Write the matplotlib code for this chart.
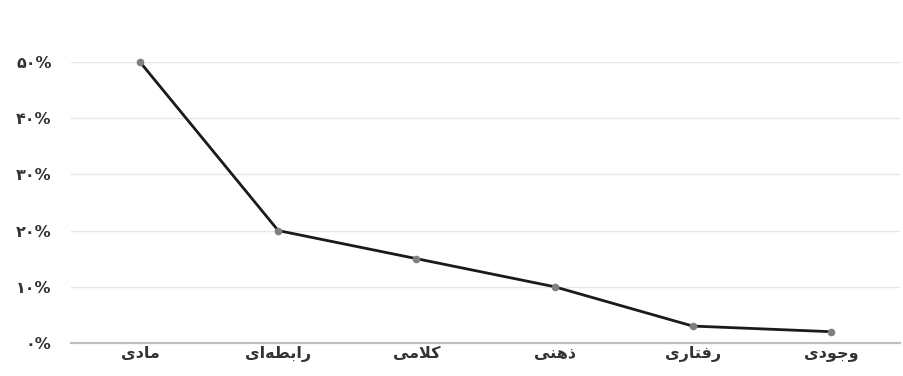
import matplotlib
matplotlib.use('Agg')
import matplotlib.pyplot as plt

# ── Datos ─────────────────────────────────────────────────────────────────────
categorias = ['مادی', 'رابطه\u200cای', 'کلامی', 'ذهنی', 'رفتاری', 'وجودی']
valores = [50, 20, 15, 10, 3, 2]
yticks = [0, 10, 20, 30, 40, 50]
ytick_labels = ['۰%', '۱۰%', '۲۰%', '۳۰%', '۴۰%', '۵۰%']

# ── Formas contextuales (matplotlib no hace shaping árabe) ───────────────────
# letra -> (aislada, final, inicial, medial); None = no une hacia la izquierda
FORMAS = {
    'ا': ('\uFE8D', '\uFE8E', None, None),
    'ب': ('\uFE8F', '\uFE90', '\uFE91', '\uFE92'),
    'ت': ('\uFE95', '\uFE96', '\uFE97', '\uFE98'),
    'ج': ('\uFE9D', '\uFE9E', '\uFE9F', '\uFEA0'),
    'د': ('\uFEA9', '\uFEAA', None, None),
    'ذ': ('\uFEAB', '\uFEAC', None, None),
    'ر': ('\uFEAD', '\uFEAE', None, None),
    'ط': ('\uFEC1', '\uFEC2', '\uFEC3', '\uFEC4'),
    'ف': ('\uFED1', '\uFED2', '\uFED3', '\uFED4'),
    'ک': ('\uFB8E', '\uFB8F', '\uFB90', '\uFB91'),
    'ل': ('\uFEDD', '\uFEDE', '\uFEDF', '\uFEE0'),
    'م': ('\uFEE1', '\uFEE2', '\uFEE3', '\uFEE4'),
    'ن': ('\uFEE5', '\uFEE6', '\uFEE7', '\uFEE8'),
    'ه': ('\uFEE9', '\uFEEA', '\uFEEB', '\uFEEC'),
    'و': ('\uFEED', '\uFEEE', None, None),
    'ی': ('\uFBFC', '\uFBFD', '\uFBFE', '\uFBFF'),
}


def une_izq(c):
    return c in FORMAS and FORMAS[c][2] is not None


def shape(txt):
    out = []
    i = 0
    while i < len(txt):
        c = txt[i]
        if c not in FORMAS:
            i += 1
            continue
        prev = txt[i - 1] if i > 0 else ''
        con_prev = une_izq(prev)
        # ligadura lam-alef
        if c == 'ل' and i + 1 < len(txt) and txt[i + 1] == 'ا':
            out.append('\uFEFC' if con_prev else '\uFEFB')
            i += 2
            continue
        sig = txt[i + 1] if i + 1 < len(txt) else ''
        con_sig = une_izq(c) and sig in FORMAS
        iso, fin, ini, med = FORMAS[c]
        if con_prev and con_sig:
            out.append(med)
        elif con_prev:
            out.append(fin)
        elif con_sig:
            out.append(ini)
        else:
            out.append(iso)
        i += 1
    return ''.join(reversed(out))


# ── Figura ────────────────────────────────────────────────────────────────────
fig = plt.figure(figsize=(9.04, 3.76), dpi=100)
ax = fig.add_axes([0.0785, 0.088, 0.917, 0.747])

x = range(len(categorias))
ax.plot(x, valores, color='#1a1a1a', lw=2.0, zorder=3, clip_on=False)
ax.plot(x, valores, 'o', color='#808080', ms=4.5, zorder=4, clip_on=False)

ax.set_xlim(-0.5, len(categorias) - 0.5)
ax.set_ylim(0, 50)
ax.set_yticks(yticks)
ax.set_yticklabels(ytick_labels)
ax.set_xticks(list(x))
ax.set_xticklabels([shape(c) for c in categorias])

for y in yticks[1:]:
    ax.axhline(y, color='#e6e6e6', lw=1.0, zorder=1)
ax.axhline(0, color='#bfbfbf', lw=1.6, zorder=2, clip_on=False)

for s in ax.spines.values():
    s.set_visible(False)
ax.tick_params(length=0)
ax.tick_params(axis='y', pad=14)
ax.tick_params(axis='x', pad=2)
for t in ax.get_xticklabels() + ax.get_yticklabels():
    t.set_fontfamily('DejaVu Sans')
    t.set_fontweight('bold')
    t.set_fontsize(11.5)
    t.set_color('#333333')

fig.savefig('out.png', dpi=100)
plt.close()
